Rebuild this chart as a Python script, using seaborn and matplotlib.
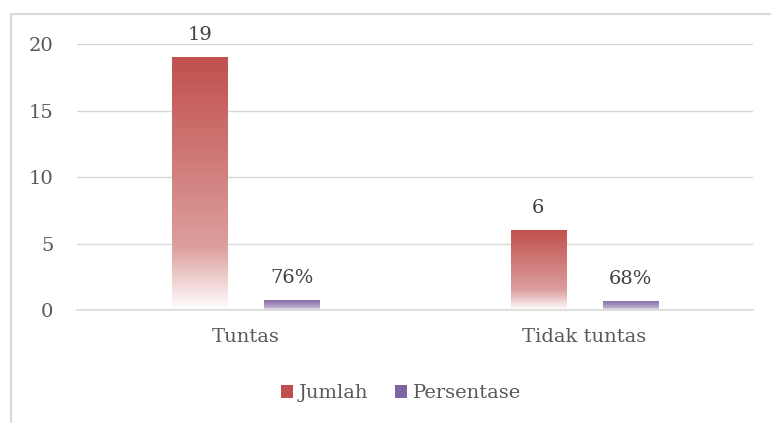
import numpy as np
import pandas as pd
import matplotlib
matplotlib.use("Agg")
import matplotlib.pyplot as plt
import seaborn as sns
from matplotlib.colors import LinearSegmentedColormap, to_rgb
from matplotlib.patches import Rectangle, Patch

categories = ["Tuntas", "Tidak tuntas"]
series = ["Jumlah", "Persentase"]
jumlah = [19, 6]
persentase = [0.76, 0.68]
labels_jumlah = ["19", "6"]
labels_persen = ["76%", "68%"]

df = pd.DataFrame({
    "Kategori": categories * 2,
    "Seri": [series[0]] * 2 + [series[1]] * 2,
    "Nilai": jumlah + persentase,
})

sns.set_style("white")
plt.rcParams["font.family"] = ["DejaVu Serif"]

red = "#C0504D"
purple = "#8064A2"

fig = plt.figure(figsize=(7.71, 4.23), dpi=100)
ax = fig.add_axes([0.0999, 0.267, 0.877, 0.629])

sns.barplot(data=df, x="Kategori", y="Nilai", hue="Seri", palette=[red, purple],
            width=0.544, gap=0.40, ax=ax, legend=False)

# gradient fill on bars
def grad_cmap(top):
    r, g, b = to_rgb(top)
    mid = tuple(c + (1 - c) * 0.45 for c in (r, g, b))
    return LinearSegmentedColormap.from_list(
        "g", [(0.0, (1, 1, 1)), (0.25, mid), (1.0, (r, g, b))])

ax.set_ylim(0, 20)
ax.set_xlim(-0.5, 1.5)
cmaps = [grad_cmap(red), grad_cmap(purple)]
bar_labels = labels_jumlah + labels_persen
for i, bar in enumerate(ax.patches):
    x0, y0 = bar.get_x(), bar.get_y()
    w, h = bar.get_width(), bar.get_height()
    bar.set_facecolor("none")
    bar.set_edgecolor("none")
    grad = np.linspace(0, 1, 256).reshape(-1, 1)
    im = ax.imshow(grad, cmap=cmaps[i // 2], origin="lower", aspect="auto",
                   extent=[x0, x0 + w, y0, y0 + h], zorder=2)
    im.set_clip_path(bar)
    ax.text(x0 + w / 2, y0 + h + 1.0, bar_labels[i], ha="center", va="bottom",
            fontsize=14, color="#404040")
ax.set_ylim(0, 20)
ax.set_xlim(-0.5, 1.5)

ax.set_yticks([0, 5, 10, 15, 20])
ax.yaxis.grid(True, color="#D9D9D9", linewidth=1)
ax.set_axisbelow(True)
for s in ["top", "right", "left"]:
    ax.spines[s].set_visible(False)
ax.spines["bottom"].set_color("#D9D9D9")
ax.spines["bottom"].set_linewidth(1.2)
ax.tick_params(axis="y", length=0, pad=17, labelsize=14, labelcolor="#595959")
ax.tick_params(axis="x", length=0, pad=13, labelsize=14, labelcolor="#595959")
ax.set_xlabel("")
ax.set_ylabel("")

handles = [Patch(facecolor=red, edgecolor="none"), Patch(facecolor=purple, edgecolor="none")]
fig.legend(handles, series, loc="center", bbox_to_anchor=(0.52, 0.07), ncol=2,
           frameon=False, fontsize=14, handlelength=0.6, handleheight=0.6,
           handletextpad=0.3, columnspacing=1.4, labelcolor="#595959")

fig.patches.append(Rectangle((11 / 771, -0.1), 1.2, 1 - 14 / 423 + 0.1,
                             transform=fig.transFigure, fill=False,
                             edgecolor="#D9D9D9", linewidth=1.5))

fig.savefig("out.png", dpi=100)
